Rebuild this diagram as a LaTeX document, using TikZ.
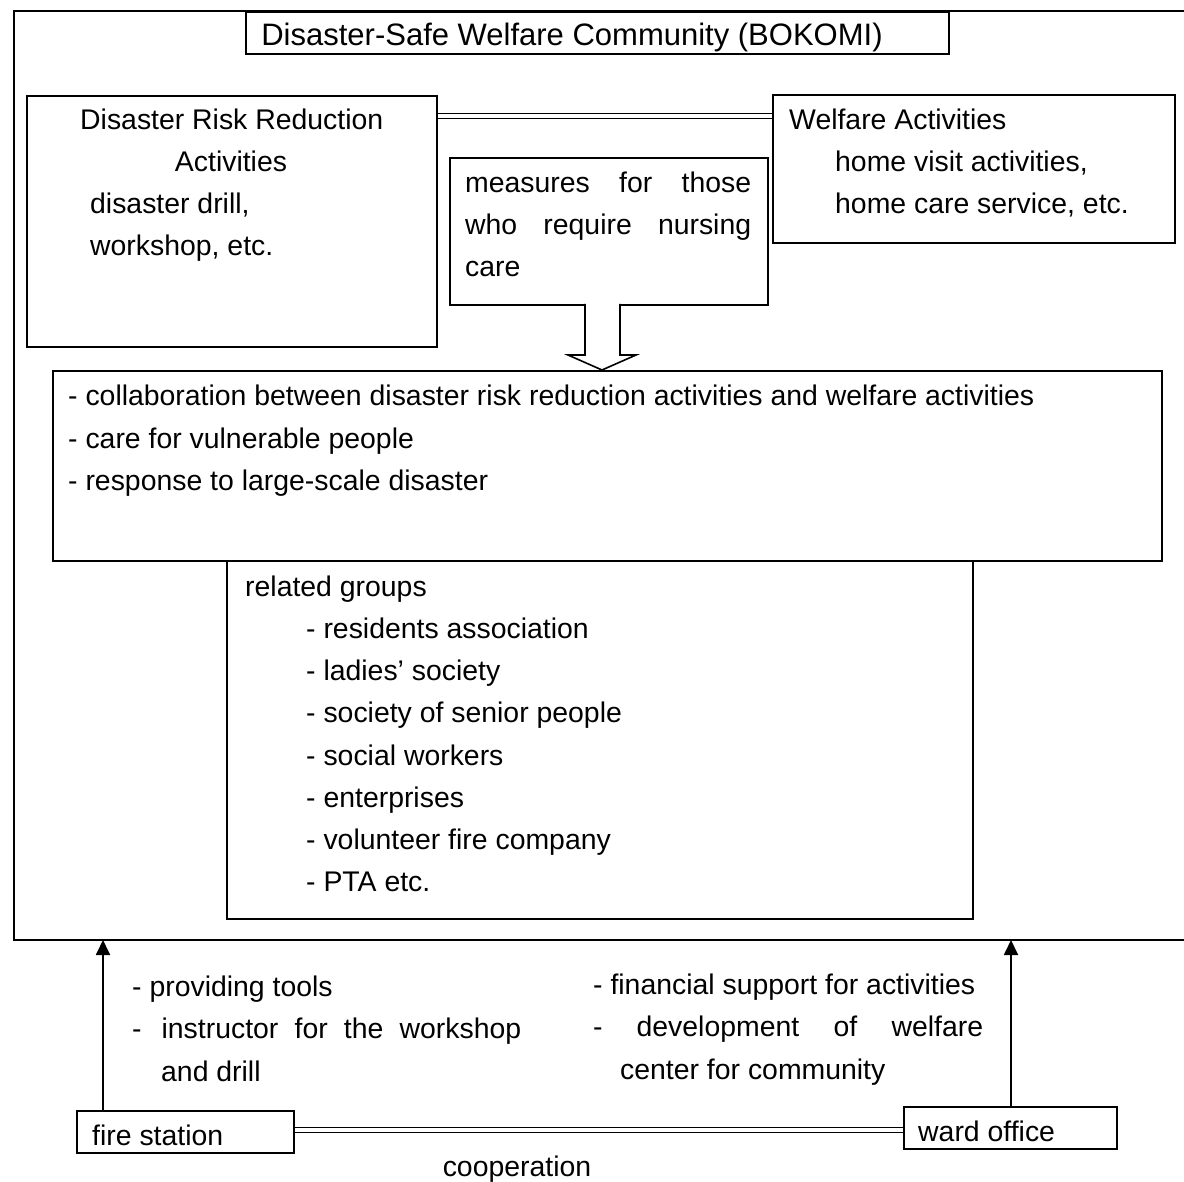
\documentclass[tikz,border=0pt]{standalone}
\usepackage{fontspec}
\setmainfont{Liberation Sans}
\usetikzlibrary{arrows.meta}
\begin{document}
\begin{tikzpicture}[x=1pt,y=-1pt,
  box/.style={draw,line width=1.9pt,rectangle,anchor=north west,inner sep=0pt},
  txt/.style={anchor=base west,inner sep=0pt,font=\fontsize{28.4}{42}\selectfont},
  link/.style={line width=1.6pt,double,double distance=3.5pt},
  up/.style={line width=1.8pt,-{Triangle[length=15pt,width=14pt]}}]
\useasboundingbox (0,0) rectangle (1184,1182);
% outer frame
\coordinate (oTR) at (1184,11);
\coordinate (oBR) at (1184,940);
\draw[line width=1.9pt] (oTR) -- (14,11) -- (14,940) -- (oBR);
% title
\node[box,minimum width=703,minimum height=42] (title) at (245,11) {};
\node[anchor=base,inner sep=0pt,font=\fontsize{31}{42}\selectfont] (titlet) at (572,46) {Disaster-Safe Welfare Community (BOKOMI)};
% DRR box
\node[box,minimum width=410,minimum height=251] (drr) at (26,95) {};
\node[txt] (drr1) at (80,130) {Disaster Risk Reduction};
\node[txt,anchor=base] (drr2) at (231,172) {Activities};
\node[txt] (drr3) at (90,214) {disaster drill,};
\node[txt] (drr4) at (90,256) {workshop, etc.};
% Welfare box
\node[box,minimum width=402,minimum height=148] (wel) at (772,94) {};
\node[txt] (wel1) at (789,130) {Welfare Activities};
\node[txt] (wel2) at (835,172) {home visit activities,};
\node[txt] (wel3) at (835,214) {home care service, etc.};
% link top
\draw[link] (drr.east|-0,116) -- (wel.west|-0,116);
% measures box
\node[box,minimum width=318,minimum height=147] (meas) at (449,157) {};
\node[txt] (meas1) at (465,193) {\makebox[286pt][s]{measures for those}};
\node[txt] (meas2) at (465,235) {\makebox[286pt][s]{who require nursing}};
\node[txt] (meas3) at (465,277) {care};
% collaboration box
\node[box,minimum width=1109,minimum height=190] (col) at (52,370) {};
\node[txt] (col1) at (68,406) {- collaboration between disaster risk reduction activities and welfare activities};
\node[txt] (col2) at (68,448) {- care for vulnerable people};
\node[txt] (col3) at (68,490) {- response to large-scale disaster};
% hollow arrow
\draw[line width=1.6pt,fill=white,line join=miter] (585,304) -- (585,355) -- (568,355) -- (602,370) -- (636,355) -- (620,355) -- (620,304);
% related groups
\node[box,minimum width=746,minimum height=358] (rel) at (226,560) {};
\node[txt] (rel0) at (245,596) {related groups};
\node[txt] (rel1) at (306,638) {- residents association};
\node[txt] (rel2) at (306,680) {- ladies' society};
\node[txt] (rel3) at (306,722) {- society of senior people};
\node[txt] (rel4) at (306,765) {- social workers};
\node[txt] (rel5) at (306,807) {- enterprises};
\node[txt] (rel6) at (306,849) {- volunteer fire company};
\node[txt] (rel7) at (306,891) {- PTA etc.};
% bottom boxes
\node[box,minimum width=217,minimum height=42] (fire) at (76,1110) {};
\node[txt] (firet) at (92,1145) {fire station};
\node[box,minimum width=213,minimum height=42] (ward) at (903,1106) {};
\node[txt] (wardt) at (918,1141) {ward office};
\draw[link] (fire.east|-0,1130) -- (ward.west|-0,1130);
\node[txt,anchor=base] (coop) at (517,1176) {cooperation};
% arrows
\coordinate (fa) at (103,940);
\coordinate (wa) at (1011,940);
\draw[up] (fire.north-|fa) -- (fa);
\draw[up] (ward.north-|wa) -- (wa);
% bottom texts
\node[txt] (bl1) at (132,996) {- providing tools};
\node[txt] (bl2) at (132,1038) {\makebox[389pt][s]{-\hspace{20pt}instructor for the workshop}};
\node[txt] (bl3) at (161,1081) {and drill};
\node[txt] (br1) at (593,994) {- financial support for activities};
\node[txt] (br2) at (593,1036) {\makebox[390pt][s]{-\hspace{34pt}development of welfare}};
\node[txt] (br3) at (620,1079) {center for community};
\end{tikzpicture}
\end{document}
